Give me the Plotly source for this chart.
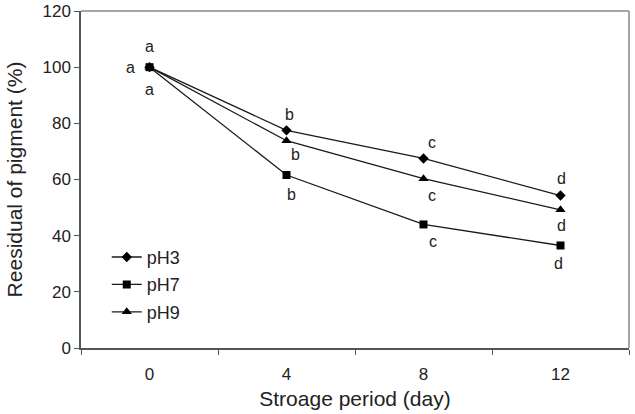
import plotly.graph_objects as go

days = ["0", "4", "8", "12"]
ph3 = [100, 77.5, 67.5, 54.3]
ph7 = [100, 61.6, 44.0, 36.5]
ph9 = [100, 73.8, 60.3, 49.2]

# significance letters
letters_ph3 = ["a", "b", "c", "d"]
letters_ph7 = ["a", "b", "c", "d"]
letters_ph9 = ["a", "b", "c", "d"]

font = "Liberation Sans, Arial, sans-serif"
fig = go.Figure()

series = [
    ("pH3", ph3, "diamond", 8),
    ("pH7", ph7, "square", 8),
    ("pH9", ph9, "triangle-up", 9),
]
for name, vals, sym, sz in series:
    fig.add_trace(go.Scatter(
        x=days, y=vals, name=name, mode="lines+markers",
        line=dict(color="#1a1a1a", width=1.3),
        marker=dict(symbol=sym, size=sz, color="black"),
        legendgroup=name,
    ))

# annotation offsets (pixels, dx right, dy down)
offs_ph3 = [(0, -21), (3, -16), (8, -16), (1, -17)]
offs_ph9 = [(-19, 0), (9, 14), (8, 17), (1, 16)]
offs_ph7 = [(0, 22), (5, 19), (9, 17), (-2, 18)]

for vals, lets, offs in [(ph3, letters_ph3, offs_ph3), (ph9, letters_ph9, offs_ph9), (ph7, letters_ph7, offs_ph7)]:
    for i, (v, t, (dx, dy)) in enumerate(zip(vals, lets, offs)):
        fig.add_annotation(x=i, y=v, xref="x", yref="y", text=t, showarrow=False,
                           xshift=dx, yshift=-dy,
                           font=dict(family=font, size=16, color="#222"))

# frame top and right
fig.add_shape(type="line", xref="paper", yref="paper", x0=0, x1=1, y0=1, y1=1,
              line=dict(color="#888", width=1.5))
fig.add_shape(type="line", xref="paper", yref="paper", x0=1, x1=1, y0=0, y1=1,
              line=dict(color="#888", width=1.5))

fig.update_layout(
    width=635, height=414,
    margin=dict(l=81, r=6, t=11, b=66),
    paper_bgcolor="white", plot_bgcolor="white",
    font=dict(family=font, size=17, color="#222"),
    showlegend=True,
    legend=dict(x=0.047, y=0.324, xanchor="left", yanchor="top",
                bgcolor="rgba(0,0,0,0)", font=dict(size=18, color="#222"),
                tracegroupgap=1, itemwidth=30),
    xaxis=dict(
        type="category", range=[-0.5, 3.5], tickson="boundaries",
        showgrid=False, zeroline=False, automargin=False,
        showline=True, linecolor="#555", linewidth=1.5,
        ticks="outside", ticklen=5, tickcolor="#555",
        tickfont=dict(size=17), ticklabelstandoff=10,
        title=dict(text="Stroage period (day)", font=dict(size=21), standoff=8),
    ),
    yaxis=dict(
        range=[0, 120], dtick=20, showgrid=False, zeroline=False, automargin=False,
        showline=True, linecolor="#555", linewidth=1.5,
        ticks="outside", ticklen=5, tickcolor="#555",
        tickfont=dict(size=17),
        title=dict(text="Reesidual of pigment (%)", font=dict(size=21), standoff=14),
    ),
)

fig.write_html("out.html")
